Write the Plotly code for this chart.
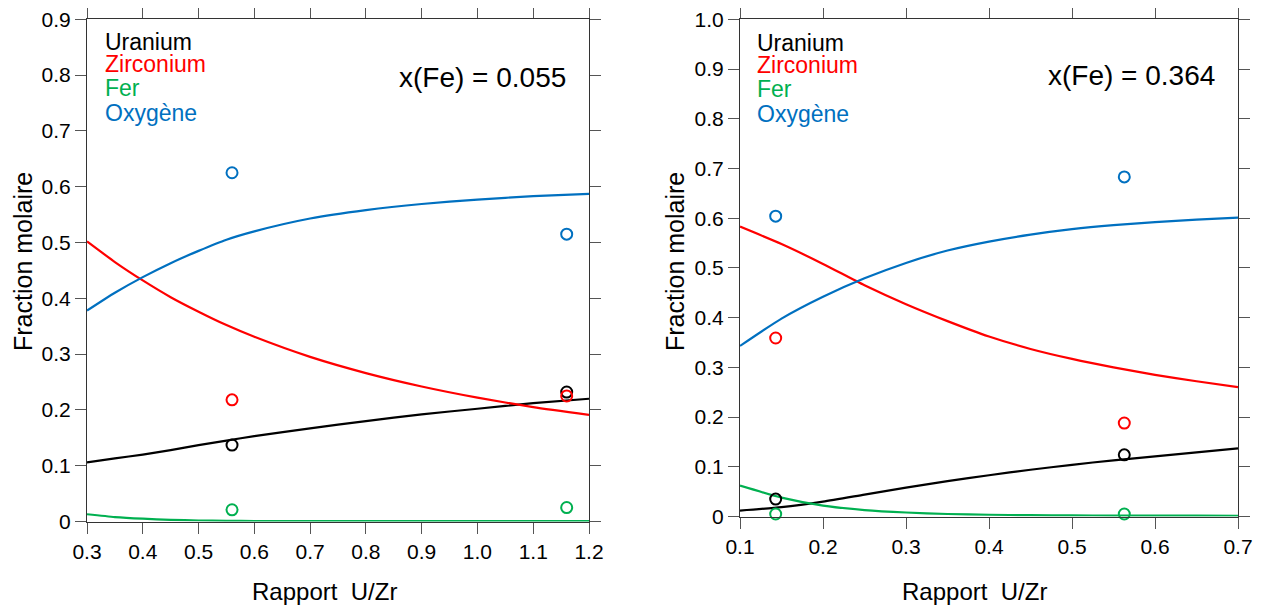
import plotly.graph_objects as go

# ---------------- Data: left panel, x(Fe) = 0.055 ----------------
left_curve_x = [0.3, 0.35, 0.4, 0.45, 0.5, 0.55, 0.6, 0.7, 0.8, 0.9, 1.0, 1.1, 1.2]
left_u_curve = [0.106, 0.113, 0.120, 0.128, 0.137, 0.145, 0.153, 0.167, 0.180, 0.192, 0.202, 0.212, 0.220]
left_zr_curve = [0.502, 0.465, 0.432, 0.402, 0.376, 0.352, 0.331, 0.295, 0.266, 0.242, 0.222, 0.205, 0.191]
left_fe_curve = [0.013, 0.008, 0.005, 0.003, 0.0018, 0.0012, 0.0008, 0.0006, 0.0005, 0.0005, 0.0005, 0.0005, 0.0005]
left_o_curve = [0.378, 0.410, 0.438, 0.463, 0.485, 0.505, 0.520, 0.543, 0.558, 0.569, 0.577, 0.583, 0.587]

left_pts_x = [0.56, 1.16]
left_u_pts = [0.137, 0.232]
left_zr_pts = [0.218, 0.225]
left_fe_pts = [0.021, 0.025]
left_o_pts = [0.625, 0.515]

# ---------------- Data: right panel, x(Fe) = 0.364 ----------------
right_curve_x = [0.1, 0.15, 0.2, 0.25, 0.3, 0.35, 0.4, 0.45, 0.5, 0.55, 0.6, 0.65, 0.7]
right_u_curve = [0.012, 0.019, 0.030, 0.044, 0.058, 0.071, 0.083, 0.094, 0.104, 0.113, 0.121, 0.129, 0.137]
right_zr_curve = [0.583, 0.548, 0.508, 0.465, 0.427, 0.393, 0.362, 0.337, 0.317, 0.300, 0.285, 0.272, 0.260]
right_fe_curve = [0.062, 0.038, 0.022, 0.013, 0.008, 0.005, 0.0035, 0.0027, 0.0022, 0.0019, 0.0017, 0.0016, 0.0015]
right_o_curve = [0.343, 0.398, 0.442, 0.479, 0.510, 0.535, 0.553, 0.567, 0.578, 0.586, 0.592, 0.597, 0.601]

right_pts_x = [0.143, 0.563]
right_u_pts = [0.035, 0.124]
right_zr_pts = [0.359, 0.188]
right_fe_pts = [0.005, 0.005]
right_o_pts = [0.604, 0.683]

series_names = ["Uranium", "Zirconium", "Fer", "Oxygène"]
series_colors = ["#000000", "#FF0000", "#00B050", "#0070C0"]

left_x_ticks = [0.3, 0.4, 0.5, 0.6, 0.7, 0.8, 0.9, 1.0, 1.1, 1.2]
left_y_ticks = [0, 0.1, 0.2, 0.3, 0.4, 0.5, 0.6, 0.7, 0.8, 0.9]
left_y_text = ["0", "0.1", "0.2", "0.3", "0.4", "0.5", "0.6", "0.7", "0.8", "0.9"]
right_x_ticks = [0.1, 0.2, 0.3, 0.4, 0.5, 0.6, 0.7]
right_y_ticks = [0, 0.1, 0.2, 0.3, 0.4, 0.5, 0.6, 0.7, 0.8, 0.9, 1.0]
right_y_text = ["0", "0.1", "0.2", "0.3", "0.4", "0.5", "0.6", "0.7", "0.8", "0.9", "1.0"]

left_label = "x(Fe) = 0.055"
right_label = "x(Fe) = 0.364"
x_title = "Rapport  U/Zr"
y_title = "Fraction molaire"

# ---------------- Figure ----------------
OFF = 8  # page body margin in the written html
W, H = 1263 - OFF, 606 - OFF
FONT = "Arial, Liberation Sans, sans-serif"


def px_x(p):
    return (p - OFF) / W


def px_y(p):
    return 1 - (p - OFF) / H


fig = go.Figure()

panels = [
    ("x", "y", left_curve_x, [left_u_curve, left_zr_curve, left_fe_curve, left_o_curve],
     left_pts_x, [left_u_pts, left_zr_pts, left_fe_pts, left_o_pts]),
    ("x2", "y2", right_curve_x, [right_u_curve, right_zr_curve, right_fe_curve, right_o_curve],
     right_pts_x, [right_u_pts, right_zr_pts, right_fe_pts, right_o_pts]),
]

for xa, ya, cx, curves, px, pts in panels:
    for name, color, cy in zip(series_names, series_colors, curves):
        fig.add_trace(go.Scatter(x=cx, y=cy, mode="lines", name=name,
                                 line=dict(color=color, width=2.2, shape="spline", smoothing=0.6),
                                 xaxis=xa, yaxis=ya, showlegend=False, cliponaxis=True))
    for name, color, py in zip(series_names, series_colors, pts):
        fig.add_trace(go.Scatter(x=px, y=py, mode="markers", name=name,
                                 marker=dict(symbol="circle-open", size=11, color=color,
                                             line=dict(color=color, width=2)),
                                 xaxis=xa, yaxis=ya, showlegend=False, cliponaxis=False))

# pixel-based frame positions (page coordinates)
lx0, lx1, ly_top, ly_bot = 87, 589, 19.3, 521.5
rx0, rx1, ry_top, ry_bot = 740, 1238, 19.3, 516.5

axis_common = dict(showgrid=False, zeroline=False, showline=True, linecolor="#333333", linewidth=1,
                   ticks="outside", ticklen=11, tickcolor="#555555", tickwidth=1, mirror="ticks",
                   automargin=False, ticklabeloverflow="allow",
                   tickfont=dict(family=FONT, size=21, color="#000000"))

fig.update_layout(
    width=W, height=H, autosize=False,
    margin=dict(l=0, r=0, t=0, b=0, pad=0, autoexpand=False),
    paper_bgcolor="white", plot_bgcolor="white",
    font=dict(family=FONT, color="#000000"),
    xaxis=dict(domain=[px_x(lx0), px_x(lx1)], range=[0.3, 1.2], tickvals=left_x_ticks,
               tickformat=".1f", anchor="y", **axis_common),
    yaxis=dict(domain=[px_y(ly_bot), px_y(ly_top)], range=[0, 0.9], tickvals=left_y_ticks,
               ticktext=left_y_text, anchor="x", **axis_common),
    xaxis2=dict(domain=[px_x(rx0), px_x(rx1)], range=[0.1, 0.7], tickvals=right_x_ticks,
                tickformat=".1f", anchor="y2", **axis_common),
    yaxis2=dict(domain=[px_y(ry_bot), px_y(ry_top)], range=[0, 1.0], tickvals=right_y_ticks,
                ticktext=right_y_text, anchor="x2", **axis_common),
)

annotations = []
# legend-like colored labels
legend_pos = [
    ("x domain", "y domain", 0.032, [0.955, 0.911, 0.864, 0.814]),
    ("x2 domain", "y2 domain", 0.030, [0.952, 0.908, 0.860, 0.810]),
]
for xr, yr, xx, ys in legend_pos:
    for name, color, yy in zip(series_names, series_colors, ys):
        annotations.append(dict(xref=xr, yref=yr, x=xx, y=yy, text=name, showarrow=False,
                                xanchor="left", yanchor="middle",
                                font=dict(family=FONT, size=23, color=color)))

annotations.append(dict(xref="x domain", yref="y domain", x=0.958, y=0.885, text=left_label,
                        showarrow=False, xanchor="right", yanchor="middle",
                        font=dict(family=FONT, size=28, color="#000000")))
annotations.append(dict(xref="x2 domain", yref="y2 domain", x=0.958, y=0.886, text=right_label,
                        showarrow=False, xanchor="right", yanchor="middle",
                        font=dict(family=FONT, size=28, color="#000000")))

# axis titles
for cx_px in (324, 974):
    annotations.append(dict(xref="paper", yref="paper", x=px_x(cx_px), y=px_y(591), text=x_title,
                            showarrow=False, xanchor="center", yanchor="middle",
                            font=dict(family=FONT, size=24, color="#000000")))
for cx_px in (23, 675):
    annotations.append(dict(xref="paper", yref="paper", x=px_x(cx_px), y=px_y(262), text=y_title,
                            showarrow=False, xanchor="center", yanchor="middle", textangle=-90,
                            font=dict(family=FONT, size=25, color="#000000")))

fig.update_layout(annotations=annotations)

fig.write_html("out.html")
